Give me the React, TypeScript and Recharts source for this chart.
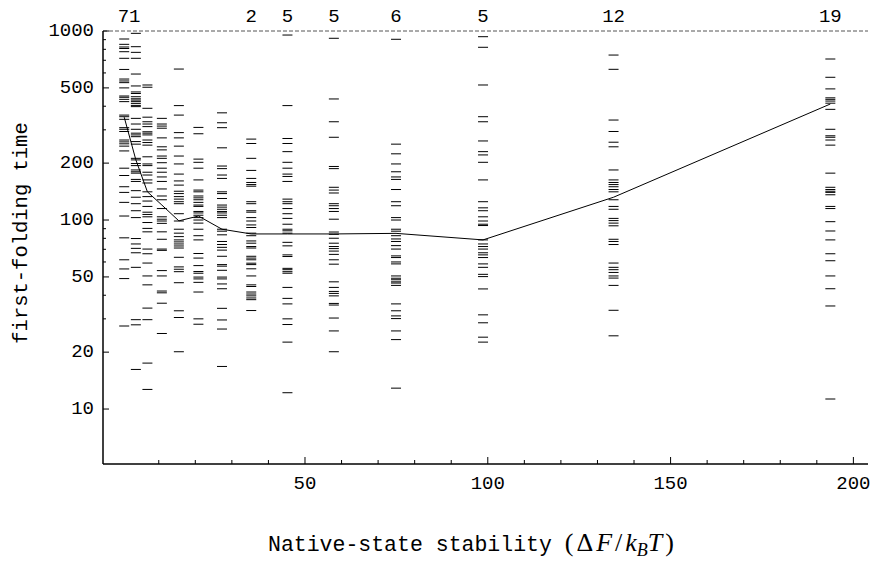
import React from 'react';
import { ComposedChart, Scatter, Line, XAxis, YAxis, ReferenceLine } from 'recharts';

// stability value of each column of runs
const columnX = [0.55, 3.74, 6.9, 10.85, 15.5, 20.85, 27.3, 35.3, 45.2, 57.9, 74.9, 98.7, 134.4, 193.7];
// median first-folding time per column
const medianTime = [350, 208, 141, 120, 99, 105, 89.4, 84.4, 84.4, 84.4, 85, 78.5, 132, 411];

const times1 = [907, 850, 823, 808, 777, 717, 626, 557, 544, 533, 500, 453, 446, 435, 423, 359, 352, 341, 308, 302, 294, 265, 259, 253, 246, 232, 188, 172, 150, 140, 124, 105, 80.5, 61.6, 55.1, 49, 27.5];
const times2 = [972, 826, 771, 717, 592, 512, 476, 467, 449, 438, 431, 423, 414, 404, 398, 345, 322, 302, 288, 282, 276, 260, 252, 212, 208, 199, 194, 184, 180, 177, 164, 160, 143, 132, 122, 112, 103, 79.8, 74.7, 70.8, 67.1, 56.2, 29.7, 27.9, 16.2];
const times3 = [518, 504, 390, 350, 331, 322, 312, 293, 288, 282, 265, 257, 249, 216, 198, 194, 179, 173, 163, 157, 141, 133, 126, 118, 110, 107, 104, 97, 90.3, 86.6, 70.2, 66.3, 59.2, 50.6, 45.4, 34.2, 29.7, 17.5, 12.7];
const times4 = [345, 322, 314, 306, 272, 244, 235, 218, 212, 201, 188, 179, 169, 160, 146, 134, 128, 115, 104, 101, 98.8, 96, 86.6, 79.1, 70.2, 69.1, 54, 50.6, 42.1, 41.2, 36.3, 25.1];
const times5 = [629, 403, 359, 290, 272, 246, 218, 198, 175, 161, 153, 142, 138, 133, 129, 125, 122, 108, 98.8, 89.4, 85.2, 81.7, 78.5, 76.6, 74.7, 72.9, 71.1, 63.5, 56.5, 54.9, 53.3, 46.6, 33.1, 30.5, 20.1];
const times6 = [309, 286, 210, 202, 188, 163, 144, 141, 134, 131, 128, 124, 120, 118, 111, 109, 106, 103, 100, 96.3, 89.4, 82.6, 78.5, 66.5, 62.9, 57.4, 53.4, 52.3, 49.9, 48.8, 46.8, 41.6, 30, 28.1];
const times7 = [369, 327, 308, 241, 193, 187, 173, 166, 141, 138, 130, 120, 117, 114, 111, 109, 106, 103, 89.4, 87.3, 83.5, 77, 74.2, 71.7, 69.3, 64.3, 58.1, 57, 54.2, 49.9, 48.8, 45.9, 43.3, 34.1, 29.6, 26.5, 16.8];
const times8 = [268, 254, 212, 183, 166, 158, 154, 151, 125, 122, 112, 110, 103, 98.8, 94.2, 91.3, 85.2, 82.6, 77.5, 75.4, 72.4, 71.1, 64.3, 62.9, 61.6, 59.1, 58.1, 55.2, 50.6, 45.4, 44.5, 41.6, 40.6, 39.7, 38.7, 37.9, 33.2];
const times9 = [952, 403, 270, 254, 230, 202, 188, 175, 170, 160, 129, 125, 122, 115, 108, 102, 95, 89.4, 87.7, 85.2, 76.2, 73, 65.4, 64.1, 55.5, 54.6, 53.3, 52.3, 44, 38.5, 36, 30, 28, 22.6, 12.2];
const times10 = [915, 437, 331, 274, 192, 187, 149, 144, 139, 122, 119, 115, 111, 101, 86.4, 84, 80.1, 75.4, 72.4, 70.6, 68.5, 65.8, 61.6, 58.4, 47.1, 44, 41.9, 40.9, 39.7, 36.2, 35.5, 30.3, 25.9, 20.1];
const times11 = [904, 252, 224, 198, 180, 169, 164, 145, 125, 119, 103, 100, 89.4, 87.3, 82.6, 79.4, 77, 73.2, 70.2, 64.6, 63.3, 60, 58.6, 50.6, 49.2, 48.3, 47.1, 46.4, 45.1, 36, 33.1, 31.1, 30.1, 25.9, 23.3, 12.9];
const times12 = [933, 820, 518, 352, 331, 262, 230, 221, 202, 163, 125, 116, 112, 104, 98.8, 95, 93.5, 78.5, 74.7, 72.4, 70.2, 67.1, 65.4, 63.3, 58.6, 56.2, 51.6, 50.2, 43.2, 31.5, 28.6, 24, 22.6];
const times13 = [746, 627, 338, 294, 258, 244, 184, 163, 158, 154, 150, 145, 141, 128, 118, 114, 102, 99.3, 96.3, 93.2, 79.1, 77, 74.2, 59.2, 56.2, 54.6, 52.8, 50.6, 49.3, 45.1, 33.3, 24.4];
const times14 = [711, 569, 494, 443, 435, 426, 415, 385, 302, 279, 274, 265, 249, 177, 149, 145, 142, 140, 136, 118, 115, 98, 87.5, 78.5, 66.3, 60.9, 50.6, 43.3, 35.1, 11.3];

const columnTimes = [times1, times2, times3, times4, times5, times6, times7, times8, times9, times10, times11, times12, times13, times14];

// runs above the 1000 cutoff, written over the columns
const countX = [1.9, 35.3, 45.2, 57.9, 74.9, 98.7, 134.4, 193.7];
const countLabels = ['71', '2', '5', '5', '6', '5', '12', '19'];

const yTicks = [20, 30, 40, 50, 60, 70, 80, 90, 100, 200, 300, 400, 500, 600, 700, 800, 900, 1000, 10];
const yLabels = [10, 20, 50, 100, 200, 500, 1000];
const xTicks = [10, 20, 30, 40, 50, 60, 70, 80, 90, 100, 110, 120, 130, 140, 150, 160, 170, 180, 190, 200];
const xLabels = [50, 100, 150, 200];

const MONO = '"Liberation Mono", "DejaVu Sans Mono", monospace';
const SERIF = '"Liberation Serif", "DejaVu Serif", serif';

const runs = columnTimes.flatMap((ts, i) => ts.map(t => ({ x: columnX[i], y: t })));
const medians = columnX.map((x, i) => ({ x, y: medianTime[i] }));
const counts = countX.map((x, i) => ({ x, y: 1000, count: countLabels[i] }));

const Dash = (props: any) => {
  const { cx, cy } = props;
  return <line x1={cx - 5} x2={cx + 5} y1={cy} y2={cy} stroke="#000" strokeWidth={1} />;
};

const CountText = (props: any) => {
  const { cx, cy, payload } = props;
  return (
    <text x={cx} y={cy - 14} textAnchor="middle" dominantBaseline="central" fontFamily={MONO} fontSize={19} fill="#000">
      {payload.count}
    </text>
  );
};

const YTick = (props: any) => {
  const { x, y, payload } = props;
  const major = yLabels.includes(payload.value);
  return (
    <g>
      <line x1={x} x2={x + (major ? 6 : 3)} y1={y} y2={y} stroke="#000" strokeWidth={1} />
      {major && (
        <text x={x - 9} y={y} textAnchor="end" dominantBaseline="central" fontFamily={MONO} fontSize={19} fill="#000">
          {payload.value}
        </text>
      )}
    </g>
  );
};

const XTick = (props: any) => {
  const { x, y, payload } = props;
  const major = xLabels.includes(payload.value);
  return (
    <g>
      <line x1={x} x2={x} y1={y} y2={y - (major ? 7 : 4)} stroke="#000" strokeWidth={1} />
      {major && (
        <text x={x} y={y + 20} textAnchor="middle" dominantBaseline="central" fontFamily={MONO} fontSize={19} fill="#000">
          {payload.value}
        </text>
      )}
    </g>
  );
};

const XTitle = () => (
  <text x={268} y={551} fontFamily={MONO} fontSize={21.5} fill="#000">
    Native-state stability{' '}
    <tspan fontFamily={SERIF} fontSize={26} letterSpacing={3}>(Δ</tspan>
    <tspan fontFamily={SERIF} fontSize={26} fontStyle="italic" letterSpacing={3}>F</tspan>
    <tspan fontFamily={SERIF} fontSize={26} letterSpacing={3}>/</tspan>
    <tspan fontFamily={SERIF} fontSize={26} fontStyle="italic">k</tspan>
    <tspan fontFamily={SERIF} fontSize={18} fontStyle="italic" dy={5}>B</tspan>
    <tspan fontFamily={SERIF} fontSize={26} fontStyle="italic" dy={-5} letterSpacing={3}>T</tspan>
    <tspan fontFamily={SERIF} fontSize={26}>)</tspan>
  </text>
);

const YTitle = () => (
  <text x={21} y={233} transform="rotate(-90 21 233)" textAnchor="middle" dominantBaseline="central" fontFamily={MONO} fontSize={20.5} fill="#000">
    first-folding time
  </text>
);

export default function App() {
  return (
    <div style={{ position: 'absolute', left: 0, top: 0, background: '#fff' }}>
      <ComposedChart width={870} height={565} margin={{ top: 31, right: 2, bottom: 0, left: 0 }}>
        <XAxis
          type="number"
          dataKey="x"
          domain={[-5.25, 204]}
          ticks={xTicks}
          interval={0}
          tickSize={0}
          tickMargin={0}
          tick={<XTick />}
          height={101}
          axisLine={{ stroke: '#000', strokeWidth: 1.5 }}
          label={{ content: () => <XTitle /> }}
        />
        <YAxis
          type="number"
          dataKey="y"
          scale="log"
          domain={[5.12, 1000]}
          ticks={yTicks}
          interval={0}
          tickSize={0}
          tickMargin={0}
          tick={<YTick />}
          width={103}
          axisLine={{ stroke: '#000', strokeWidth: 1.5 }}
          label={{ content: () => <YTitle /> }}
        />
        <ReferenceLine y={1000} stroke="#555" strokeDasharray="4 2" strokeWidth={1} />
        <Scatter data={runs} dataKey="y" shape={<Dash />} isAnimationActive={false} />
        <Line data={medians} dataKey="y" type="linear" stroke="#000" strokeWidth={1} dot={false} activeDot={false} isAnimationActive={false} />
        <Scatter data={counts} dataKey="y" shape={<CountText />} isAnimationActive={false} />
      </ComposedChart>
    </div>
  );
}
